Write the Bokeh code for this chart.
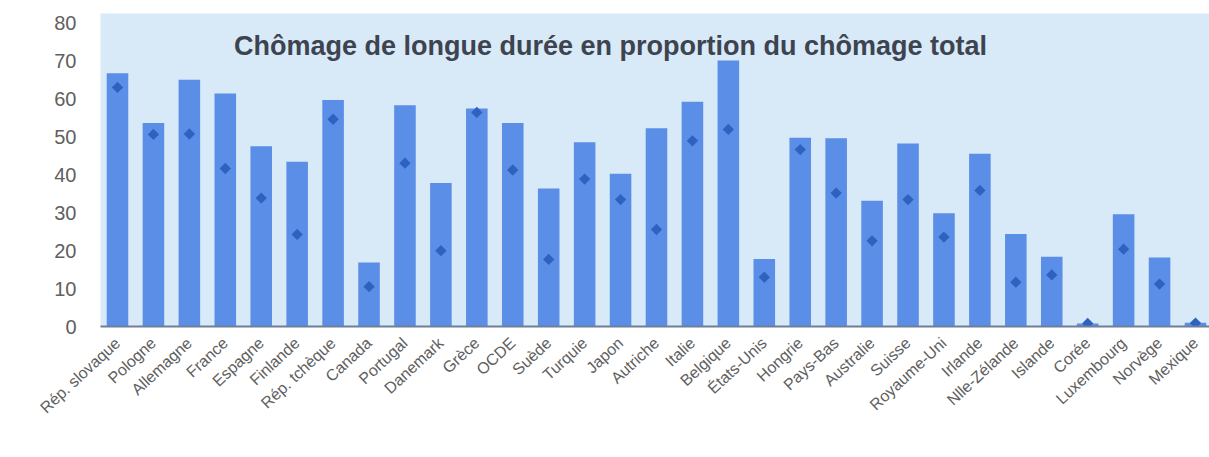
import math
from bokeh.plotting import figure
from bokeh.models import Range1d, FixedTicker
from bokeh.core.properties import value
from bokeh.embed import file_html
from bokeh.resources import INLINE

countries = ["Rép. slovaque", "Pologne", "Allemagne", "France", "Espagne", "Finlande",
             "Rép. tchèque", "Canada", "Portugal", "Danemark", "Grèce", "OCDE", "Suède",
             "Turquie", "Japon", "Autriche", "Italie", "Belgique", "États-Unis", "Hongrie",
             "Pays-Bas", "Australie", "Suisse", "Royaume-Uni", "Irlande", "Nlle-Zélande",
             "Islande", "Corée", "Luxembourg", "Norvège", "Mexique"]
bar_values = [66.8, 53.7, 65.1, 61.5, 47.6, 43.5, 59.8, 16.9, 58.4, 37.9, 57.5, 53.7, 36.4,
              48.6, 40.3, 52.3, 59.3, 70.2, 17.8, 49.8, 49.7, 33.2, 48.3, 29.9, 45.6, 24.4,
              18.4, 0.8, 29.6, 18.2, 1.0]
diamond_values = [63.1, 50.7, 50.8, 41.7, 33.9, 24.3, 54.7, 10.5, 43.1, 20.0, 56.5, 41.3, 17.7,
                  38.9, 33.5, 25.6, 49.0, 52.0, 13.0, 46.7, 35.2, 22.6, 33.5, 23.6, 35.9, 11.7,
                  13.6, 0.8, 20.4, 11.2, 0.9]
y_ticks = [0, 10, 20, 30, 40, 50, 60, 70, 80]
title_text = "Chômage de longue durée en proportion du chômage total"

idx = list(range(len(countries)))

p = figure(width=1209, height=457,
           x_range=Range1d(-0.473, 30.39), y_range=Range1d(0, 82.6),
           output_backend="svg", toolbar_location=None,
           min_border_left=100, min_border_right=0, min_border_top=13, min_border_bottom=131)

p.background_fill_color = "#d8e9f8"
p.border_fill_color = "white"
p.outline_line_color = None
p.xgrid.visible = False
p.ygrid.visible = False

p.vbar(x=idx, top=bar_values, width=0.6, color="#5b8ee6", line_color=None)
p.scatter(x=idx, y=diamond_values, marker="square", angle=math.pi / 4, size=8,
          color="#2e62c0", line_color=None)

p.text(x=[13.72], y=[74.1], text=[title_text], text_font=value("Liberation Sans"),
       text_font_style="bold", text_font_size="27px", text_color="#3d4450",
       text_align="center", text_baseline="middle")

p.yaxis.ticker = FixedTicker(ticks=y_ticks)
p.yaxis.axis_line_color = None
p.yaxis.major_tick_line_color = None
p.yaxis.minor_tick_line_color = None
p.yaxis.major_label_text_font = "Liberation Sans"
p.yaxis.major_label_text_font_size = "20px"
p.yaxis.major_label_text_color = "#606060"
p.yaxis.major_label_standoff = 18

p.xaxis.ticker = FixedTicker(ticks=idx)
p.xaxis.major_label_overrides = {i: c for i, c in zip(idx, countries)}
p.xaxis.axis_line_color = "#6f7f99"
p.xaxis.axis_line_width = 2
p.xaxis.major_tick_line_color = None
p.xaxis.minor_tick_line_color = None
p.xaxis.major_label_orientation = 0.75
p.xaxis.major_label_text_font = "Liberation Sans"
p.xaxis.major_label_text_font_size = "16px"
p.xaxis.major_label_text_color = "#606060"
p.xaxis.major_label_standoff = 8

open("out.html", "w").write(file_html(p, INLINE))
